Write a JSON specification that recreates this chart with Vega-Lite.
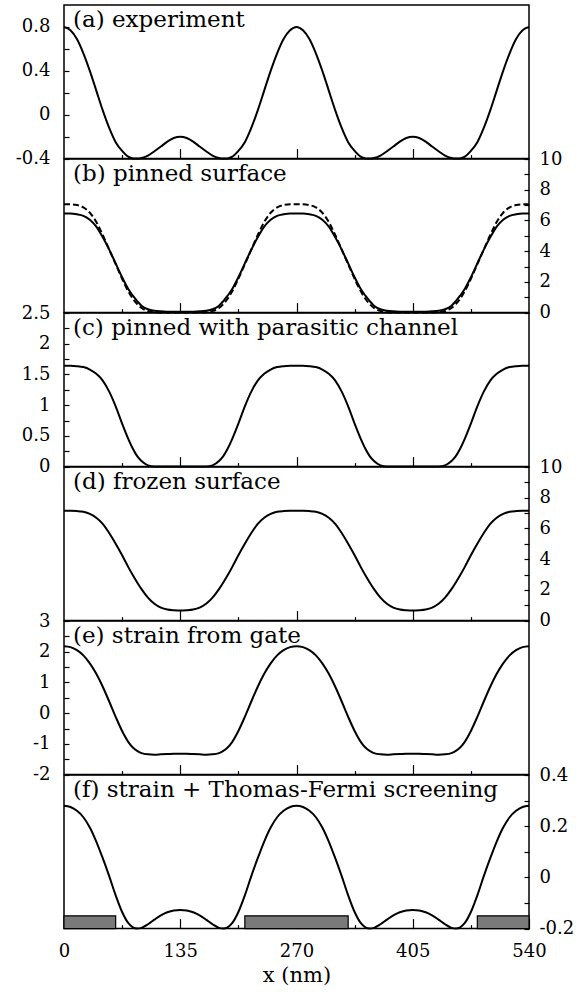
{
  "$schema": "https://vega.github.io/schema/vega-lite/v6.json",
  "padding": {"left": 14, "top": 4, "right": 2, "bottom": 2},
  "background": "white",
  "bounds": "flush",
  "spacing": 0,
  "config": {
    "view": {"stroke": "black", "strokeWidth": 1.5},
    "font": "DejaVu Serif",
    "axis": {"labelFont": "DejaVu Serif", "labelFontSize": 18, "labelColor": "black", "tickColor": "black", "tickWidth": 1.2, "domain": false, "grid": false, "labelOverlap": false, "labelFlush": false},
    "title": {"font": "DejaVu Serif", "fontSize": 23, "fontWeight": "normal", "anchor": "start", "frame": "group", "offset": -35.5, "dx": 9, "color": "black"},
    "line": {"color": "black", "strokeWidth": 2, "interpolate": "monotone", "clip": true}
  },
  "datasets": {
    "gates": [{"g0": 0, "g1": 60}, {"g0": 210, "g1": 330}, {"g0": 480, "g1": 540}],
    "curves": [
      {"x": 0, "a": 0.8, "bs": 6.45, "bd": 7.05, "c": 1.64, "d": 7.15, "e": 2.18, "f": 0.28},
      {"x": 7.5, "a": 0.77, "bs": 6.45, "bd": 7.05, "c": 1.64, "d": 7.15, "e": 2.15, "f": 0.275},
      {"x": 15, "a": 0.69, "bs": 6.4, "bd": 7.0, "c": 1.635, "d": 7.13, "e": 2.05, "f": 0.26},
      {"x": 22.5, "a": 0.56, "bs": 6.3, "bd": 6.85, "c": 1.62, "d": 7.08, "e": 1.88, "f": 0.235},
      {"x": 30, "a": 0.4, "bs": 6.05, "bd": 6.5, "c": 1.58, "d": 6.95, "e": 1.62, "f": 0.195},
      {"x": 37.5, "a": 0.22, "bs": 5.6, "bd": 5.9, "c": 1.51, "d": 6.7, "e": 1.28, "f": 0.14},
      {"x": 45, "a": 0.04, "bs": 4.9, "bd": 5.05, "c": 1.4, "d": 6.3, "e": 0.86, "f": 0.075},
      {"x": 52.5, "a": -0.12, "bs": 4.1, "bd": 4.1, "c": 1.22, "d": 5.7, "e": 0.38, "f": 0.005},
      {"x": 60, "a": -0.25, "bs": 3.2, "bd": 3.15, "c": 0.98, "d": 5.0, "e": -0.12, "f": -0.07},
      {"x": 67.5, "a": -0.33, "bs": 2.3, "bd": 2.2, "c": 0.7, "d": 4.25, "e": -0.58, "f": -0.135},
      {"x": 75, "a": -0.385, "bs": 1.5, "bd": 1.35, "c": 0.44, "d": 3.45, "e": -0.95, "f": -0.18},
      {"x": 80, "a": -0.398, "bs": 1.1, "bd": 0.9, "c": 0.29, "d": 2.95, "e": -1.12, "f": -0.195},
      {"x": 85, "a": -0.4, "bs": 0.75, "bd": 0.55, "c": 0.17, "d": 2.48, "e": -1.23, "f": -0.2},
      {"x": 90, "a": -0.395, "bs": 0.45, "bd": 0.3, "c": 0.09, "d": 2.05, "e": -1.3, "f": -0.197},
      {"x": 97.5, "a": -0.372, "bs": 0.22, "bd": 0.1, "c": 0.02, "d": 1.5, "e": -1.34, "f": -0.183},
      {"x": 105, "a": -0.333, "bs": 0.12, "bd": 0.03, "c": 0, "d": 1.1, "e": -1.35, "f": -0.165},
      {"x": 112.5, "a": -0.29, "bs": 0.08, "bd": 0, "c": 0, "d": 0.85, "e": -1.34, "f": -0.148},
      {"x": 120, "a": -0.245, "bs": 0.06, "bd": 0, "c": 0, "d": 0.72, "e": -1.33, "f": -0.136},
      {"x": 127.5, "a": -0.212, "bs": 0.05, "bd": 0, "c": 0, "d": 0.67, "e": -1.32, "f": -0.129},
      {"x": 135, "a": -0.2, "bs": 0.05, "bd": 0, "c": 0, "d": 0.65, "e": -1.32, "f": -0.127},
      {"x": 142.5, "a": -0.212, "bs": 0.05, "bd": 0, "c": 0, "d": 0.67, "e": -1.32, "f": -0.129},
      {"x": 150, "a": -0.245, "bs": 0.06, "bd": 0, "c": 0, "d": 0.72, "e": -1.33, "f": -0.136},
      {"x": 157.5, "a": -0.29, "bs": 0.08, "bd": 0, "c": 0, "d": 0.85, "e": -1.34, "f": -0.148},
      {"x": 165, "a": -0.333, "bs": 0.12, "bd": 0.03, "c": 0, "d": 1.1, "e": -1.35, "f": -0.165},
      {"x": 172.5, "a": -0.372, "bs": 0.22, "bd": 0.1, "c": 0.02, "d": 1.5, "e": -1.34, "f": -0.183},
      {"x": 180, "a": -0.395, "bs": 0.45, "bd": 0.3, "c": 0.09, "d": 2.05, "e": -1.3, "f": -0.197},
      {"x": 185, "a": -0.4, "bs": 0.75, "bd": 0.55, "c": 0.17, "d": 2.48, "e": -1.23, "f": -0.2},
      {"x": 190, "a": -0.398, "bs": 1.1, "bd": 0.9, "c": 0.29, "d": 2.95, "e": -1.12, "f": -0.195},
      {"x": 195, "a": -0.385, "bs": 1.5, "bd": 1.35, "c": 0.44, "d": 3.45, "e": -0.95, "f": -0.18},
      {"x": 202.5, "a": -0.33, "bs": 2.3, "bd": 2.2, "c": 0.7, "d": 4.25, "e": -0.58, "f": -0.135},
      {"x": 210, "a": -0.25, "bs": 3.2, "bd": 3.15, "c": 0.98, "d": 5.0, "e": -0.12, "f": -0.07},
      {"x": 217.5, "a": -0.12, "bs": 4.1, "bd": 4.1, "c": 1.22, "d": 5.7, "e": 0.38, "f": 0.005},
      {"x": 225, "a": 0.04, "bs": 4.9, "bd": 5.05, "c": 1.4, "d": 6.3, "e": 0.86, "f": 0.075},
      {"x": 232.5, "a": 0.22, "bs": 5.6, "bd": 5.9, "c": 1.51, "d": 6.7, "e": 1.28, "f": 0.14},
      {"x": 240, "a": 0.4, "bs": 6.05, "bd": 6.5, "c": 1.58, "d": 6.95, "e": 1.62, "f": 0.195},
      {"x": 247.5, "a": 0.56, "bs": 6.3, "bd": 6.85, "c": 1.62, "d": 7.08, "e": 1.88, "f": 0.235},
      {"x": 255, "a": 0.69, "bs": 6.4, "bd": 7.0, "c": 1.635, "d": 7.13, "e": 2.05, "f": 0.26},
      {"x": 262.5, "a": 0.77, "bs": 6.45, "bd": 7.05, "c": 1.64, "d": 7.15, "e": 2.15, "f": 0.275},
      {"x": 270, "a": 0.8, "bs": 6.45, "bd": 7.05, "c": 1.64, "d": 7.15, "e": 2.18, "f": 0.28},
      {"x": 277.5, "a": 0.77, "bs": 6.45, "bd": 7.05, "c": 1.64, "d": 7.15, "e": 2.15, "f": 0.275},
      {"x": 285, "a": 0.69, "bs": 6.4, "bd": 7.0, "c": 1.635, "d": 7.13, "e": 2.05, "f": 0.26},
      {"x": 292.5, "a": 0.56, "bs": 6.3, "bd": 6.85, "c": 1.62, "d": 7.08, "e": 1.88, "f": 0.235},
      {"x": 300, "a": 0.4, "bs": 6.05, "bd": 6.5, "c": 1.58, "d": 6.95, "e": 1.62, "f": 0.195},
      {"x": 307.5, "a": 0.22, "bs": 5.6, "bd": 5.9, "c": 1.51, "d": 6.7, "e": 1.28, "f": 0.14},
      {"x": 315, "a": 0.04, "bs": 4.9, "bd": 5.05, "c": 1.4, "d": 6.3, "e": 0.86, "f": 0.075},
      {"x": 322.5, "a": -0.12, "bs": 4.1, "bd": 4.1, "c": 1.22, "d": 5.7, "e": 0.38, "f": 0.005},
      {"x": 330, "a": -0.25, "bs": 3.2, "bd": 3.15, "c": 0.98, "d": 5.0, "e": -0.12, "f": -0.07},
      {"x": 337.5, "a": -0.33, "bs": 2.3, "bd": 2.2, "c": 0.7, "d": 4.25, "e": -0.58, "f": -0.135},
      {"x": 345, "a": -0.385, "bs": 1.5, "bd": 1.35, "c": 0.44, "d": 3.45, "e": -0.95, "f": -0.18},
      {"x": 350, "a": -0.398, "bs": 1.1, "bd": 0.9, "c": 0.29, "d": 2.95, "e": -1.12, "f": -0.195},
      {"x": 355, "a": -0.4, "bs": 0.75, "bd": 0.55, "c": 0.17, "d": 2.48, "e": -1.23, "f": -0.2},
      {"x": 360, "a": -0.395, "bs": 0.45, "bd": 0.3, "c": 0.09, "d": 2.05, "e": -1.3, "f": -0.197},
      {"x": 367.5, "a": -0.372, "bs": 0.22, "bd": 0.1, "c": 0.02, "d": 1.5, "e": -1.34, "f": -0.183},
      {"x": 375, "a": -0.333, "bs": 0.12, "bd": 0.03, "c": 0, "d": 1.1, "e": -1.35, "f": -0.165},
      {"x": 382.5, "a": -0.29, "bs": 0.08, "bd": 0, "c": 0, "d": 0.85, "e": -1.34, "f": -0.148},
      {"x": 390, "a": -0.245, "bs": 0.06, "bd": 0, "c": 0, "d": 0.72, "e": -1.33, "f": -0.136},
      {"x": 397.5, "a": -0.212, "bs": 0.05, "bd": 0, "c": 0, "d": 0.67, "e": -1.32, "f": -0.129},
      {"x": 405, "a": -0.2, "bs": 0.05, "bd": 0, "c": 0, "d": 0.65, "e": -1.32, "f": -0.127},
      {"x": 412.5, "a": -0.212, "bs": 0.05, "bd": 0, "c": 0, "d": 0.67, "e": -1.32, "f": -0.129},
      {"x": 420, "a": -0.245, "bs": 0.06, "bd": 0, "c": 0, "d": 0.72, "e": -1.33, "f": -0.136},
      {"x": 427.5, "a": -0.29, "bs": 0.08, "bd": 0, "c": 0, "d": 0.85, "e": -1.34, "f": -0.148},
      {"x": 435, "a": -0.333, "bs": 0.12, "bd": 0.03, "c": 0, "d": 1.1, "e": -1.35, "f": -0.165},
      {"x": 442.5, "a": -0.372, "bs": 0.22, "bd": 0.1, "c": 0.02, "d": 1.5, "e": -1.34, "f": -0.183},
      {"x": 450, "a": -0.395, "bs": 0.45, "bd": 0.3, "c": 0.09, "d": 2.05, "e": -1.3, "f": -0.197},
      {"x": 455, "a": -0.4, "bs": 0.75, "bd": 0.55, "c": 0.17, "d": 2.48, "e": -1.23, "f": -0.2},
      {"x": 460, "a": -0.398, "bs": 1.1, "bd": 0.9, "c": 0.29, "d": 2.95, "e": -1.12, "f": -0.195},
      {"x": 465, "a": -0.385, "bs": 1.5, "bd": 1.35, "c": 0.44, "d": 3.45, "e": -0.95, "f": -0.18},
      {"x": 472.5, "a": -0.33, "bs": 2.3, "bd": 2.2, "c": 0.7, "d": 4.25, "e": -0.58, "f": -0.135},
      {"x": 480, "a": -0.25, "bs": 3.2, "bd": 3.15, "c": 0.98, "d": 5.0, "e": -0.12, "f": -0.07},
      {"x": 487.5, "a": -0.12, "bs": 4.1, "bd": 4.1, "c": 1.22, "d": 5.7, "e": 0.38, "f": 0.005},
      {"x": 495, "a": 0.04, "bs": 4.9, "bd": 5.05, "c": 1.4, "d": 6.3, "e": 0.86, "f": 0.075},
      {"x": 502.5, "a": 0.22, "bs": 5.6, "bd": 5.9, "c": 1.51, "d": 6.7, "e": 1.28, "f": 0.14},
      {"x": 510, "a": 0.4, "bs": 6.05, "bd": 6.5, "c": 1.58, "d": 6.95, "e": 1.62, "f": 0.195},
      {"x": 517.5, "a": 0.56, "bs": 6.3, "bd": 6.85, "c": 1.62, "d": 7.08, "e": 1.88, "f": 0.235},
      {"x": 525, "a": 0.69, "bs": 6.4, "bd": 7.0, "c": 1.635, "d": 7.13, "e": 2.05, "f": 0.26},
      {"x": 532.5, "a": 0.77, "bs": 6.45, "bd": 7.05, "c": 1.64, "d": 7.15, "e": 2.15, "f": 0.275},
      {"x": 540, "a": 0.8, "bs": 6.45, "bd": 7.05, "c": 1.64, "d": 7.15, "e": 2.18, "f": 0.28}
    ]
  },
  "vconcat": [
    {
      "width": 465, "height": 153.6,
      "title": {"text": "(a) experiment", "offset": -27},
      "data": {"name": "curves"},
      "mark": {"type": "line"},
      "encoding": {
        "x": {"field": "x", "type": "quantitative", "scale": {"domain": [0, 540], "nice": false, "zero": false},
              "axis": {"orient": "bottom", "values": [67.5, 135, 202.5, 270, 337.5, 405, 472.5], "labels": false, "title": null,
                       "tickSize": {"condition": {"test": "datum.value % 135 === 0", "value": -10}, "value": -4}}},
        "y": {"field": "a", "type": "quantitative", "scale": {"domain": [-0.4, 1.0], "nice": false, "zero": false},
              "axis": {"orient": "left", "values": [-0.4, -0.2, 0, 0.2, 0.4, 0.6, 0.8], "labelExpr": "indexof([-0.4, 0, 0.4, 0.8], datum.value) >= 0 ? toString(datum.value) : ''", "tickSize": -5, "labelPadding": 19, "title": null}}
      }
    },
    {
      "width": 465, "height": 153.6,
      "title": "(b) pinned surface",
      "data": {"name": "curves"},
      "layer": [
        {
          "mark": {"type": "line"},
          "encoding": {
            "x": {"field": "x", "type": "quantitative", "scale": {"domain": [0, 540], "nice": false, "zero": false},
                  "axis": {"orient": "bottom", "values": [67.5, 135, 202.5, 270, 337.5, 405, 472.5], "labels": false, "title": null,
                           "tickSize": {"condition": {"test": "datum.value % 135 === 0", "value": -10}, "value": -4}}},
            "y": {"field": "bs", "type": "quantitative", "scale": {"domain": [0, 10], "nice": false, "zero": false},
                  "axis": {"orient": "right", "values": [0, 1, 2, 3, 4, 5, 6, 7, 8, 9, 10], "labelExpr": "datum.value % 2 === 0 ? toString(datum.value) : ''", "tickSize": -5, "labelPadding": 15, "title": null}}
          }
        },
        {
          "mark": {"type": "line", "strokeDash": [6, 3]},
          "encoding": {
            "x": {"field": "x", "type": "quantitative",
                  "axis": {"orient": "bottom", "values": [67.5, 135, 202.5, 270, 337.5, 405, 472.5], "labels": false, "title": null,
                           "tickSize": {"condition": {"test": "datum.value % 135 === 0", "value": -10}, "value": -4}}},
            "y": {"field": "bd", "type": "quantitative",
                  "axis": {"orient": "right", "values": [0, 1, 2, 3, 4, 5, 6, 7, 8, 9, 10], "labelExpr": "datum.value % 2 === 0 ? toString(datum.value) : ''", "tickSize": -5, "labelPadding": 15, "title": null}}
          }
        }
      ]
    },
    {
      "width": 465, "height": 153.6,
      "title": "(c) pinned with parasitic channel",
      "data": {"name": "curves"},
      "mark": {"type": "line"},
      "encoding": {
        "x": {"field": "x", "type": "quantitative", "scale": {"domain": [0, 540], "nice": false, "zero": false},
              "axis": {"orient": "bottom", "values": [67.5, 135, 202.5, 270, 337.5, 405, 472.5], "labels": false, "title": null,
                       "tickSize": {"condition": {"test": "datum.value % 135 === 0", "value": -10}, "value": -4}}},
        "y": {"field": "c", "type": "quantitative", "scale": {"domain": [0, 2.5], "nice": false, "zero": false},
              "axis": {"orient": "left", "values": [0, 0.25, 0.5, 0.75, 1, 1.25, 1.5, 1.75, 2, 2.25, 2.5], "labelExpr": "(datum.value * 2) % 1 === 0 ? toString(datum.value) : ''", "tickSize": -5, "labelPadding": 19, "title": null}}
      }
    },
    {
      "width": 465, "height": 153.6,
      "title": "(d) frozen surface",
      "data": {"name": "curves"},
      "mark": {"type": "line"},
      "encoding": {
        "x": {"field": "x", "type": "quantitative", "scale": {"domain": [0, 540], "nice": false, "zero": false},
              "axis": {"orient": "bottom", "values": [67.5, 135, 202.5, 270, 337.5, 405, 472.5], "labels": false, "title": null,
                       "tickSize": {"condition": {"test": "datum.value % 135 === 0", "value": -10}, "value": -4}}},
        "y": {"field": "d", "type": "quantitative", "scale": {"domain": [0, 10], "nice": false, "zero": false},
              "axis": {"orient": "right", "values": [0, 1, 2, 3, 4, 5, 6, 7, 8, 9, 10], "labelExpr": "datum.value % 2 === 0 ? toString(datum.value) : ''", "tickSize": -5, "labelPadding": 15, "title": null}}
      }
    },
    {
      "width": 465, "height": 153.6,
      "title": "(e) strain from gate",
      "data": {"name": "curves"},
      "mark": {"type": "line"},
      "encoding": {
        "x": {"field": "x", "type": "quantitative", "scale": {"domain": [0, 540], "nice": false, "zero": false},
              "axis": {"orient": "bottom", "values": [67.5, 135, 202.5, 270, 337.5, 405, 472.5], "labels": false, "title": null,
                       "tickSize": {"condition": {"test": "datum.value % 135 === 0", "value": -10}, "value": -4}}},
        "y": {"field": "e", "type": "quantitative", "scale": {"domain": [-2, 3], "nice": false, "zero": false},
              "axis": {"orient": "left", "values": [-2, -1.5, -1, -0.5, 0, 0.5, 1, 1.5, 2, 2.5, 3], "labelExpr": "datum.value % 1 === 0 ? toString(datum.value) : ''", "tickSize": -5, "labelPadding": 19, "title": null}}
      }
    },
    {
      "width": 465, "height": 153.6,
      "title": "(f) strain + Thomas-Fermi screening",
      "layer": [
        {
          "data": {"name": "gates"},
          "mark": {"type": "rect", "fill": "#7a7a7a", "stroke": "black", "strokeWidth": 1.2},
          "encoding": {
            "x": {"field": "g0", "type": "quantitative", "scale": {"domain": [0, 540], "nice": false, "zero": false},
                  "axis": {"orient": "bottom", "values": [0, 67.5, 135, 202.5, 270, 337.5, 405, 472.5, 540], "labelExpr": "datum.value % 135 === 0 ? toString(datum.value) : ''", "labelPadding": 24, "title": "x (nm)", "titleFont": "DejaVu Serif", "titleFontSize": 21, "titleFontWeight": "normal", "titleColor": "black", "titlePadding": -2,
                           "tickSize": {"condition": {"test": "datum.value % 135 === 0", "value": -10}, "value": -4}}},
            "x2": {"field": "g1"},
            "y": {"datum": -0.2, "type": "quantitative", "scale": {"domain": [-0.2, 0.4], "nice": false, "zero": false},
                  "axis": {"orient": "right", "values": [-0.2, -0.1, 0, 0.1, 0.2, 0.3, 0.4], "labelExpr": "indexof([-0.2, 0, 0.2, 0.4], datum.value) >= 0 ? toString(datum.value) : ''", "tickSize": -5, "labelPadding": 15, "title": null}},
            "y2": {"datum": -0.15}
          }
        },
        {
          "data": {"name": "curves"},
          "mark": {"type": "line"},
          "encoding": {
            "x": {"field": "x", "type": "quantitative",
                  "axis": {"orient": "bottom", "values": [0, 67.5, 135, 202.5, 270, 337.5, 405, 472.5, 540], "labelExpr": "datum.value % 135 === 0 ? toString(datum.value) : ''", "labelPadding": 24, "title": "x (nm)", "titleFont": "DejaVu Serif", "titleFontSize": 21, "titleFontWeight": "normal", "titleColor": "black", "titlePadding": -2,
                           "tickSize": {"condition": {"test": "datum.value % 135 === 0", "value": -10}, "value": -4}}},
            "y": {"field": "f", "type": "quantitative",
                  "axis": {"orient": "right", "values": [-0.2, -0.1, 0, 0.1, 0.2, 0.3, 0.4], "labelExpr": "indexof([-0.2, 0, 0.2, 0.4], datum.value) >= 0 ? toString(datum.value) : ''", "tickSize": -5, "labelPadding": 15, "title": null}}
          }
        }
      ]
    }
  ]
}
